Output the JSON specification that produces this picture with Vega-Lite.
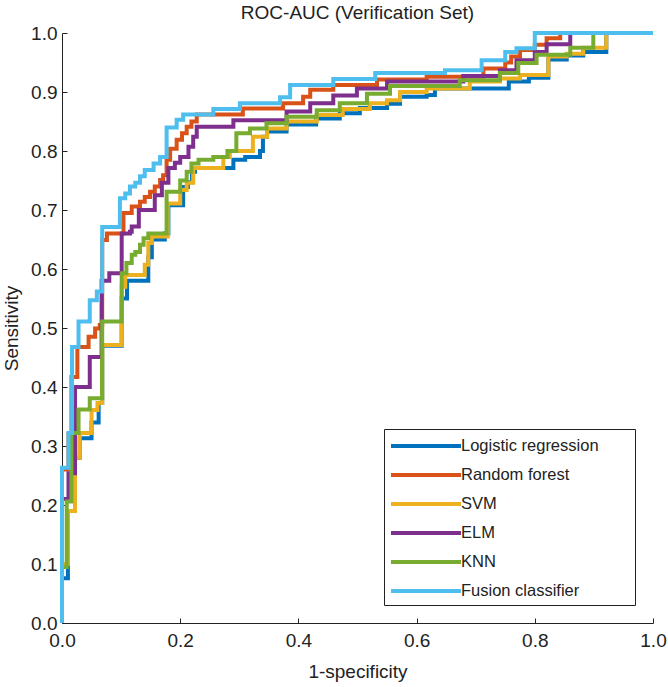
{
  "$schema": "https://vega.github.io/schema/vega-lite/v6.json",
  "autosize": {"type": "none"},
  "padding": {"left": 62, "top": 33, "right": 15, "bottom": 64},
  "width": 591,
  "height": 590,
  "title": {"text": "ROC-AUC (Verification Set)", "fontSize": 19, "fontWeight": "normal", "color": "#222", "frame": "group", "anchor": "middle", "offset": 1},
  "config": {"font": "Liberation Sans", "view": {"stroke": null}},
  "data": {"values": [
    {"m":"Logistic regression","i":0,"x":0,"y":0},
    {"m":"Logistic regression","i":1,"x":0,"y":0.076},
    {"m":"Logistic regression","i":2,"x":0.01,"y":0.19},
    {"m":"Logistic regression","i":3,"x":0.022,"y":0.28},
    {"m":"Logistic regression","i":4,"x":0.03,"y":0.313},
    {"m":"Logistic regression","i":5,"x":0.05,"y":0.34},
    {"m":"Logistic regression","i":6,"x":0.062,"y":0.373},
    {"m":"Logistic regression","i":7,"x":0.068,"y":0.47},
    {"m":"Logistic regression","i":8,"x":0.101,"y":0.55},
    {"m":"Logistic regression","i":9,"x":0.11,"y":0.58},
    {"m":"Logistic regression","i":10,"x":0.146,"y":0.62},
    {"m":"Logistic regression","i":11,"x":0.152,"y":0.65},
    {"m":"Logistic regression","i":12,"x":0.174,"y":0.66},
    {"m":"Logistic regression","i":13,"x":0.18,"y":0.708},
    {"m":"Logistic regression","i":14,"x":0.205,"y":0.739},
    {"m":"Logistic regression","i":15,"x":0.213,"y":0.747},
    {"m":"Logistic regression","i":16,"x":0.22,"y":0.765},
    {"m":"Logistic regression","i":17,"x":0.225,"y":0.771},
    {"m":"Logistic regression","i":18,"x":0.29,"y":0.785},
    {"m":"Logistic regression","i":19,"x":0.31,"y":0.79},
    {"m":"Logistic regression","i":20,"x":0.335,"y":0.8},
    {"m":"Logistic regression","i":21,"x":0.34,"y":0.824},
    {"m":"Logistic regression","i":22,"x":0.347,"y":0.833},
    {"m":"Logistic regression","i":23,"x":0.38,"y":0.845},
    {"m":"Logistic regression","i":24,"x":0.43,"y":0.855},
    {"m":"Logistic regression","i":25,"x":0.47,"y":0.864},
    {"m":"Logistic regression","i":26,"x":0.504,"y":0.873},
    {"m":"Logistic regression","i":27,"x":0.55,"y":0.88},
    {"m":"Logistic regression","i":28,"x":0.572,"y":0.892},
    {"m":"Logistic regression","i":29,"x":0.617,"y":0.895},
    {"m":"Logistic regression","i":30,"x":0.631,"y":0.906},
    {"m":"Logistic regression","i":31,"x":0.756,"y":0.918},
    {"m":"Logistic regression","i":32,"x":0.79,"y":0.924},
    {"m":"Logistic regression","i":33,"x":0.823,"y":0.955},
    {"m":"Logistic regression","i":34,"x":0.854,"y":0.962},
    {"m":"Logistic regression","i":35,"x":0.882,"y":0.968},
    {"m":"Logistic regression","i":36,"x":0.921,"y":1},
    {"m":"Logistic regression","i":37,"x":1,"y":1},

    {"m":"Random forest","i":0,"x":0,"y":0},
    {"m":"Random forest","i":1,"x":0,"y":0.26},
    {"m":"Random forest","i":2,"x":0.011,"y":0.32},
    {"m":"Random forest","i":3,"x":0.016,"y":0.417},
    {"m":"Random forest","i":4,"x":0.026,"y":0.468},
    {"m":"Random forest","i":5,"x":0.045,"y":0.485},
    {"m":"Random forest","i":6,"x":0.056,"y":0.499},
    {"m":"Random forest","i":7,"x":0.064,"y":0.505},
    {"m":"Random forest","i":8,"x":0.068,"y":0.649},
    {"m":"Random forest","i":9,"x":0.076,"y":0.66},
    {"m":"Random forest","i":10,"x":0.104,"y":0.695},
    {"m":"Random forest","i":11,"x":0.118,"y":0.706},
    {"m":"Random forest","i":12,"x":0.132,"y":0.714},
    {"m":"Random forest","i":13,"x":0.14,"y":0.722},
    {"m":"Random forest","i":14,"x":0.149,"y":0.731},
    {"m":"Random forest","i":15,"x":0.157,"y":0.74},
    {"m":"Random forest","i":16,"x":0.166,"y":0.751},
    {"m":"Random forest","i":17,"x":0.171,"y":0.759},
    {"m":"Random forest","i":18,"x":0.177,"y":0.785},
    {"m":"Random forest","i":19,"x":0.183,"y":0.804},
    {"m":"Random forest","i":20,"x":0.194,"y":0.819},
    {"m":"Random forest","i":21,"x":0.203,"y":0.83},
    {"m":"Random forest","i":22,"x":0.211,"y":0.841},
    {"m":"Random forest","i":23,"x":0.219,"y":0.85},
    {"m":"Random forest","i":24,"x":0.228,"y":0.862},
    {"m":"Random forest","i":25,"x":0.306,"y":0.872},
    {"m":"Random forest","i":26,"x":0.374,"y":0.881},
    {"m":"Random forest","i":27,"x":0.408,"y":0.892},
    {"m":"Random forest","i":28,"x":0.42,"y":0.904},
    {"m":"Random forest","i":29,"x":0.459,"y":0.912},
    {"m":"Random forest","i":30,"x":0.533,"y":0.921},
    {"m":"Random forest","i":31,"x":0.617,"y":0.926},
    {"m":"Random forest","i":32,"x":0.713,"y":0.94},
    {"m":"Random forest","i":33,"x":0.75,"y":0.95},
    {"m":"Random forest","i":34,"x":0.76,"y":0.96},
    {"m":"Random forest","i":35,"x":0.775,"y":0.971},
    {"m":"Random forest","i":36,"x":0.8,"y":0.98},
    {"m":"Random forest","i":37,"x":0.82,"y":0.991},
    {"m":"Random forest","i":38,"x":0.843,"y":1},
    {"m":"Random forest","i":39,"x":1,"y":1},

    {"m":"SVM","i":0,"x":0,"y":0},
    {"m":"SVM","i":1,"x":0,"y":0.1},
    {"m":"SVM","i":2,"x":0.01,"y":0.19},
    {"m":"SVM","i":3,"x":0.022,"y":0.28},
    {"m":"SVM","i":4,"x":0.03,"y":0.322},
    {"m":"SVM","i":5,"x":0.05,"y":0.361},
    {"m":"SVM","i":6,"x":0.06,"y":0.373},
    {"m":"SVM","i":7,"x":0.068,"y":0.471},
    {"m":"SVM","i":8,"x":0.101,"y":0.57},
    {"m":"SVM","i":9,"x":0.107,"y":0.59},
    {"m":"SVM","i":10,"x":0.14,"y":0.607},
    {"m":"SVM","i":11,"x":0.146,"y":0.644},
    {"m":"SVM","i":12,"x":0.152,"y":0.655},
    {"m":"SVM","i":13,"x":0.179,"y":0.711},
    {"m":"SVM","i":14,"x":0.2,"y":0.734},
    {"m":"SVM","i":15,"x":0.211,"y":0.746},
    {"m":"SVM","i":16,"x":0.222,"y":0.771},
    {"m":"SVM","i":17,"x":0.273,"y":0.79},
    {"m":"SVM","i":18,"x":0.284,"y":0.8},
    {"m":"SVM","i":19,"x":0.323,"y":0.824},
    {"m":"SVM","i":20,"x":0.347,"y":0.838},
    {"m":"SVM","i":21,"x":0.38,"y":0.85},
    {"m":"SVM","i":22,"x":0.431,"y":0.861},
    {"m":"SVM","i":23,"x":0.475,"y":0.871},
    {"m":"SVM","i":24,"x":0.521,"y":0.881},
    {"m":"SVM","i":25,"x":0.55,"y":0.886},
    {"m":"SVM","i":26,"x":0.572,"y":0.9},
    {"m":"SVM","i":27,"x":0.617,"y":0.906},
    {"m":"SVM","i":28,"x":0.69,"y":0.918},
    {"m":"SVM","i":29,"x":0.741,"y":0.923},
    {"m":"SVM","i":30,"x":0.775,"y":0.929},
    {"m":"SVM","i":31,"x":0.823,"y":0.96},
    {"m":"SVM","i":32,"x":0.854,"y":0.965},
    {"m":"SVM","i":33,"x":0.882,"y":0.975},
    {"m":"SVM","i":34,"x":0.921,"y":1},
    {"m":"SVM","i":35,"x":1,"y":1},

    {"m":"ELM","i":0,"x":0,"y":0},
    {"m":"ELM","i":1,"x":0,"y":0.21},
    {"m":"ELM","i":2,"x":0.011,"y":0.254},
    {"m":"ELM","i":3,"x":0.022,"y":0.4},
    {"m":"ELM","i":4,"x":0.047,"y":0.451},
    {"m":"ELM","i":5,"x":0.067,"y":0.58},
    {"m":"ELM","i":6,"x":0.08,"y":0.593},
    {"m":"ELM","i":7,"x":0.101,"y":0.66},
    {"m":"ELM","i":8,"x":0.115,"y":0.663},
    {"m":"ELM","i":9,"x":0.118,"y":0.672},
    {"m":"ELM","i":10,"x":0.13,"y":0.7},
    {"m":"ELM","i":11,"x":0.157,"y":0.725},
    {"m":"ELM","i":12,"x":0.169,"y":0.746},
    {"m":"ELM","i":13,"x":0.18,"y":0.771},
    {"m":"ELM","i":14,"x":0.191,"y":0.78},
    {"m":"ELM","i":15,"x":0.2,"y":0.79},
    {"m":"ELM","i":16,"x":0.214,"y":0.807},
    {"m":"ELM","i":17,"x":0.222,"y":0.824},
    {"m":"ELM","i":18,"x":0.228,"y":0.841},
    {"m":"ELM","i":19,"x":0.29,"y":0.852},
    {"m":"ELM","i":20,"x":0.38,"y":0.867},
    {"m":"ELM","i":21,"x":0.42,"y":0.881},
    {"m":"ELM","i":22,"x":0.459,"y":0.894},
    {"m":"ELM","i":23,"x":0.499,"y":0.906},
    {"m":"ELM","i":24,"x":0.55,"y":0.918},
    {"m":"ELM","i":25,"x":0.679,"y":0.927},
    {"m":"ELM","i":26,"x":0.741,"y":0.937},
    {"m":"ELM","i":27,"x":0.769,"y":0.954},
    {"m":"ELM","i":28,"x":0.8,"y":0.968},
    {"m":"ELM","i":29,"x":0.82,"y":0.981},
    {"m":"ELM","i":30,"x":0.86,"y":1},
    {"m":"ELM","i":31,"x":1,"y":1},

    {"m":"KNN","i":0,"x":0,"y":0},
    {"m":"KNN","i":1,"x":0,"y":0.095},
    {"m":"KNN","i":2,"x":0.008,"y":0.206},
    {"m":"KNN","i":3,"x":0.016,"y":0.322},
    {"m":"KNN","i":4,"x":0.028,"y":0.362},
    {"m":"KNN","i":5,"x":0.047,"y":0.381},
    {"m":"KNN","i":6,"x":0.068,"y":0.511},
    {"m":"KNN","i":7,"x":0.101,"y":0.593},
    {"m":"KNN","i":8,"x":0.109,"y":0.61},
    {"m":"KNN","i":9,"x":0.118,"y":0.624},
    {"m":"KNN","i":10,"x":0.124,"y":0.629},
    {"m":"KNN","i":11,"x":0.132,"y":0.641},
    {"m":"KNN","i":12,"x":0.138,"y":0.652},
    {"m":"KNN","i":13,"x":0.146,"y":0.66},
    {"m":"KNN","i":14,"x":0.177,"y":0.731},
    {"m":"KNN","i":15,"x":0.2,"y":0.75},
    {"m":"KNN","i":16,"x":0.211,"y":0.765},
    {"m":"KNN","i":17,"x":0.219,"y":0.779},
    {"m":"KNN","i":18,"x":0.231,"y":0.785},
    {"m":"KNN","i":19,"x":0.256,"y":0.79},
    {"m":"KNN","i":20,"x":0.28,"y":0.8},
    {"m":"KNN","i":21,"x":0.295,"y":0.83},
    {"m":"KNN","i":22,"x":0.318,"y":0.838},
    {"m":"KNN","i":23,"x":0.346,"y":0.847},
    {"m":"KNN","i":24,"x":0.38,"y":0.858},
    {"m":"KNN","i":25,"x":0.431,"y":0.869},
    {"m":"KNN","i":26,"x":0.47,"y":0.881},
    {"m":"KNN","i":27,"x":0.516,"y":0.897},
    {"m":"KNN","i":28,"x":0.555,"y":0.91},
    {"m":"KNN","i":29,"x":0.673,"y":0.92},
    {"m":"KNN","i":30,"x":0.741,"y":0.932},
    {"m":"KNN","i":31,"x":0.772,"y":0.949},
    {"m":"KNN","i":32,"x":0.803,"y":0.963},
    {"m":"KNN","i":33,"x":0.86,"y":0.975},
    {"m":"KNN","i":34,"x":0.899,"y":1},
    {"m":"KNN","i":35,"x":1,"y":1},

    {"m":"Fusion classifier","i":0,"x":0,"y":0},
    {"m":"Fusion classifier","i":1,"x":0,"y":0.263},
    {"m":"Fusion classifier","i":2,"x":0.011,"y":0.322},
    {"m":"Fusion classifier","i":3,"x":0.017,"y":0.468},
    {"m":"Fusion classifier","i":4,"x":0.028,"y":0.511},
    {"m":"Fusion classifier","i":5,"x":0.047,"y":0.547},
    {"m":"Fusion classifier","i":6,"x":0.059,"y":0.562},
    {"m":"Fusion classifier","i":7,"x":0.068,"y":0.671},
    {"m":"Fusion classifier","i":8,"x":0.098,"y":0.72},
    {"m":"Fusion classifier","i":9,"x":0.107,"y":0.728},
    {"m":"Fusion classifier","i":10,"x":0.115,"y":0.74},
    {"m":"Fusion classifier","i":11,"x":0.124,"y":0.746},
    {"m":"Fusion classifier","i":12,"x":0.132,"y":0.757},
    {"m":"Fusion classifier","i":13,"x":0.14,"y":0.768},
    {"m":"Fusion classifier","i":14,"x":0.155,"y":0.779},
    {"m":"Fusion classifier","i":15,"x":0.166,"y":0.79},
    {"m":"Fusion classifier","i":16,"x":0.177,"y":0.84},
    {"m":"Fusion classifier","i":17,"x":0.194,"y":0.853},
    {"m":"Fusion classifier","i":18,"x":0.205,"y":0.862},
    {"m":"Fusion classifier","i":19,"x":0.256,"y":0.871},
    {"m":"Fusion classifier","i":20,"x":0.301,"y":0.881},
    {"m":"Fusion classifier","i":21,"x":0.369,"y":0.891},
    {"m":"Fusion classifier","i":22,"x":0.386,"y":0.912},
    {"m":"Fusion classifier","i":23,"x":0.459,"y":0.922},
    {"m":"Fusion classifier","i":24,"x":0.53,"y":0.932},
    {"m":"Fusion classifier","i":25,"x":0.648,"y":0.937},
    {"m":"Fusion classifier","i":26,"x":0.71,"y":0.954},
    {"m":"Fusion classifier","i":27,"x":0.75,"y":0.968},
    {"m":"Fusion classifier","i":28,"x":0.769,"y":0.974},
    {"m":"Fusion classifier","i":29,"x":0.8,"y":1},
    {"m":"Fusion classifier","i":30,"x":1,"y":1}
  ]},
  "mark": {"type": "line", "interpolate": "step-after", "strokeWidth": 4},
  "encoding": {
    "x": {"field": "x", "type": "quantitative", "scale": {"domain": [0, 1], "nice": false},
      "axis": {"title": "1-specificity", "values": [0, 0.2, 0.4, 0.6, 0.8, 1], "format": ".1f", "grid": false,
        "domainColor": "#222", "tickColor": "#222", "tickSize": -5, "labelPadding": 13, "labelFontSize": 19, "labelColor": "#222",
        "titleFontSize": 19, "titleFontWeight": "normal", "titleColor": "#222", "titlePadding": 12, "labelFlush": false}},
    "y": {"field": "y", "type": "quantitative", "scale": {"domain": [0, 1], "nice": false},
      "axis": {"title": "Sensitivity", "values": [0, 0.1, 0.2, 0.3, 0.4, 0.5, 0.6, 0.7, 0.8, 0.9, 1], "format": ".1f", "grid": false,
        "domainColor": "#222", "tickColor": "#222", "tickSize": -5, "labelPadding": 10, "labelFontSize": 19, "labelColor": "#222",
        "titleFontSize": 19, "titleFontWeight": "normal", "titleColor": "#222", "titlePadding": 9, "labelFlush": false}},
    "color": {"field": "m", "type": "nominal",
      "scale": {"domain": ["Logistic regression", "Random forest", "SVM", "ELM", "KNN", "Fusion classifier"],
        "range": ["#0072BD", "#D95319", "#EDB120", "#7E2F8E", "#77AC30", "#4DBEEE"]},
      "legend": {"title": " ", "titleOrient": "right", "titlePadding": 31, "orient": "bottom-right", "offset": 18, "strokeColor": "#222", "fillColor": "white",
        "padding": 5, "symbolType": "M-1,0H6", "symbolSize": 400, "symbolStrokeWidth": 4, "labelFontSize": 16.5,
        "labelColor": "#222", "labelOffset": 48, "labelLimit": 300, "rowPadding": 8}},
    "order": {"field": "i", "type": "quantitative"}
  }
}
